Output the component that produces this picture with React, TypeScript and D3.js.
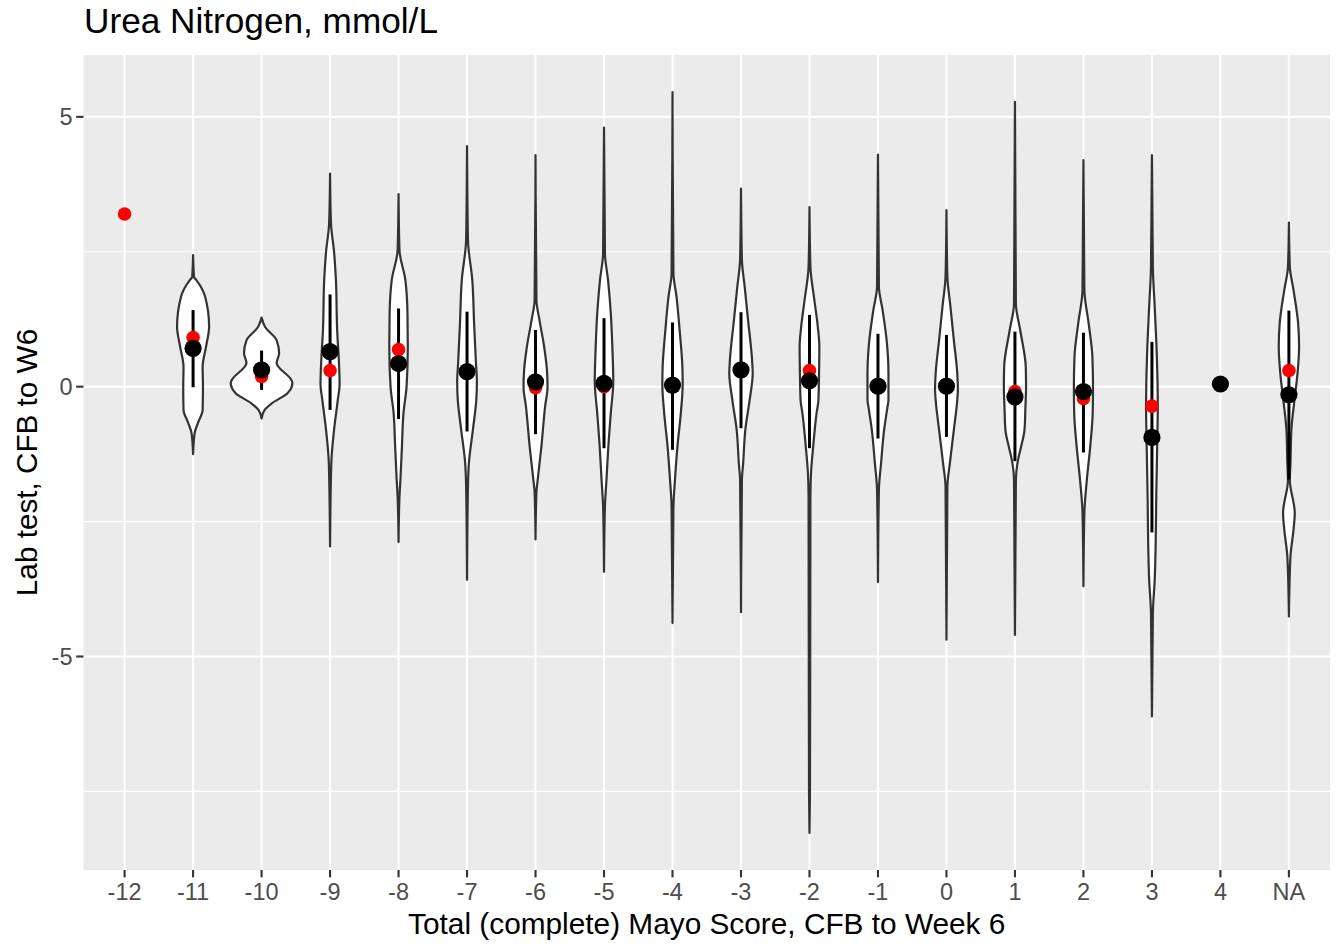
import React from "react";
import * as d3 from "d3";

// ---------- data ----------
const categories = ["-12","-11","-10","-9","-8","-7","-6","-5","-4","-3","-2","-1","0","1","2","3","4","NA"];

// violin outlines: [value, relative half-width]
const vM11: [number, number][] = [[2.44,0],[2.03,0.03],[1.98,0.1],[1.67,0.39],[1.11,0.52],[0.74,0.42],[0.37,0.31],[0,0.32],[-0.43,0.31],[-0.67,0.16],[-0.86,0.05],[-1.25,0]];
const vM10: [number, number][] = [[1.28,0],[1.11,0.11],[0.86,0.49],[0.62,0.57],[0.44,0.49],[0.12,0.97],[0.07,1.0],[-0.12,0.84],[-0.31,0.33],[-0.43,0.1],[-0.59,0]];
const vM9: [number, number][] = [[3.95,0],[3.03,0.03],[2.5,0.13],[1.98,0.19],[1.05,0.23],[0.43,0.29],[0.05,0.31],[-0.25,0.25],[-0.8,0.13],[-1.42,0.04],[-2.96,0]];
const vM8: [number, number][] = [[3.57,0],[2.53,0.03],[1.98,0.22],[1.36,0.29],[0.74,0.3],[0,0.26],[-0.49,0.16],[-1.11,0.11],[-1.73,0.06],[-2.04,0.03],[-2.88,0]];
const vM7: [number, number][] = [[4.46,0],[2.72,0.03],[1.98,0.17],[1.17,0.23],[0.43,0.29],[0.1,0.32],[-0.25,0.3],[-0.8,0.19],[-1.42,0.06],[-1.85,0.03],[-3.58,0]];
const vM6: [number, number][] = [[4.29,0],[1.6,0.03],[1.23,0.13],[0.74,0.28],[0.31,0.37],[0,0.39],[-0.37,0.31],[-1.11,0.19],[-1.73,0.07],[-1.95,0.03],[-2.83,0]];
const vM5: [number, number][] = [[4.8,0],[2.47,0.03],[1.98,0.13],[1.36,0.22],[0.74,0.27],[0.1,0.3],[-0.49,0.22],[-1.11,0.14],[-1.73,0.08],[-2.22,0.03],[-3.43,0]];
const vM4: [number, number][] = [[5.46,0],[2.1,0.03],[1.67,0.13],[0.99,0.24],[0.37,0.32],[0.05,0.33],[-0.49,0.27],[-1.11,0.16],[-1.73,0.08],[-2.22,0.03],[-4.38,0]];
const vM3: [number, number][] = [[3.67,0],[2.35,0.03],[1.85,0.12],[1.23,0.23],[0.49,0.36],[0.25,0.38],[-0.25,0.28],[-0.8,0.14],[-1.42,0.07],[-1.73,0.03],[-4.18,0]];
const vM2: [number, number][] = [[3.33,0],[2.22,0.03],[1.6,0.16],[1.11,0.27],[0.74,0.32],[0.25,0.31],[-0.25,0.29],[-0.49,0.23],[-1.11,0.12],[-1.6,0.05],[-2.04,0.03],[-7.5,0.015],[-8.27,0]];
const vM1: [number, number][] = [[4.3,0],[1.85,0.03],[1.42,0.15],[0.81,0.29],[0.25,0.34],[-0.25,0.34],[-0.37,0.31],[-0.8,0.2],[-1.42,0.1],[-1.91,0.03],[-3.62,0]];
const v0: [number, number][] = [[3.27,0],[2.04,0.03],[1.48,0.13],[0.86,0.24],[0.25,0.35],[-0.06,0.37],[-0.25,0.35],[-0.8,0.24],[-1.42,0.11],[-1.85,0.03],[-4.69,0]];
const v1: [number, number][] = [[5.28,0],[1.54,0.03],[1.05,0.17],[0.37,0.35],[0,0.36],[-0.37,0.34],[-0.8,0.31],[-1.11,0.2],[-1.42,0.08],[-1.73,0.03],[-4.6,0]];
const v2: [number, number][] = [[4.2,0],[1.79,0.03],[1.17,0.17],[0.56,0.29],[0,0.31],[-0.49,0.3],[-1.11,0.22],[-1.73,0.11],[-2.34,0.03],[-3.7,0]];
const v3: [number, number][] = [[4.29,0],[2.22,0.03],[1.48,0.09],[0.56,0.16],[-0.37,0.19],[-1.11,0.17],[-2.04,0.14],[-2.96,0.12],[-3.58,0.09],[-4.2,0.03],[-6.11,0]];
const vNA: [number, number][] = [[3.04,0],[2.22,0.03],[1.79,0.15],[1.17,0.3],[0.74,0.33],[0.25,0.28],[-0.25,0.18],[-0.8,0.08],[-1.42,0.05],[-1.73,0.03],[-2.34,0.19],[-2.65,0.15],[-3.15,0.05],[-4.26,0]];

const violins: [string, [number, number][]][] = [
  ["-11", vM11], ["-10", vM10], ["-9", vM9], ["-8", vM8], ["-7", vM7], ["-6", vM6],
  ["-5", vM5], ["-4", vM4], ["-3", vM3], ["-2", vM2], ["-1", vM1], ["0", v0],
  ["1", v1], ["2", v2], ["3", v3], ["NA", vNA],
];

// red points (means)
const redValues: (number | null)[] = [3.2,0.91,0.19,0.3,0.69,0.28,-0.02,0,0.03,0.31,0.3,0.01,0.01,-0.09,-0.22,-0.36,null,0.3];
// black points (medians) with ranges
const blackValues: (number | null)[] = [null,0.71,0.31,0.65,0.43,0.28,0.09,0.06,0.03,0.31,0.11,0.01,0.01,-0.19,-0.09,-0.94,0.05,-0.15];
const rangeLow: (number | null)[] = [null,-0.01,-0.06,-0.43,-0.6,-0.83,-0.88,-1.14,-1.17,-0.77,-1.14,-0.96,-0.93,-1.38,-1.22,-2.7,null,-1.72];
const rangeHigh: (number | null)[] = [null,1.42,0.67,1.71,1.45,1.39,1.05,1.27,1.19,1.38,1.33,0.98,0.96,1.02,1.0,0.83,null,1.41];

const yMajor = [-5, 0, 5];
const yMinor = [-7.5, -2.5, 2.5];

const titleText = "Urea Nitrogen, mmol/L";
const xTitle = "Total (complete) Mayo Score, CFB to Week 6";
const yTitle = "Lab test, CFB to W6";

// ---------- layout ----------
const W = 1340, H = 946;
const PL = 83.5, PR = 1330, PT = 55, PB = 870;
const FONT = "'Liberation Sans', Arial, Helvetica, sans-serif";

export default function App() {
  const x = d3.scalePoint<string>().domain(categories).range([PL, PR]).padding(0.6);
  const step = x.step();
  const allVals: number[] = [];
  violins.forEach(([, p]) => p.forEach((d) => allVals.push(d[0])));
  redValues.forEach((v) => v != null && allVals.push(v));
  const [lo, hi] = d3.extent(allVals) as [number, number];
  const pad = (hi - lo) * 0.05;
  const y = d3.scaleLinear().domain([lo - pad, hi + pad]).range([PB, PT]);
  const maxHW = step * 0.45;

  return (
    <svg width={W} height={H} style={{ position: "absolute", left: 0, top: 0, background: "#fff" }} fontFamily={FONT}>
      <rect x={0} y={0} width={W} height={H} fill="#ffffff" />
      <text x={84} y={33} fontSize={35.2} fill="#000">{titleText}</text>
      <rect x={PL} y={PT} width={PR - PL} height={PB - PT} fill="#EBEBEB" />
      {yMinor.map((v) => (
        <line key={"mn" + v} x1={PL} x2={PR} y1={y(v)} y2={y(v)} stroke="#fff" strokeWidth={1.1} />
      ))}
      {yMajor.map((v) => (
        <line key={"mj" + v} x1={PL} x2={PR} y1={y(v)} y2={y(v)} stroke="#fff" strokeWidth={2.1} />
      ))}
      {categories.map((c) => (
        <line key={"vx" + c} x1={x(c)} x2={x(c)} y1={PT} y2={PB} stroke="#fff" strokeWidth={2.1} />
      ))}
      {violins.map(([c, prof]) => {
        const cx = x(c) as number;
        const area = d3
          .area<[number, number]>()
          .y((d) => y(d[0]))
          .x0((d) => cx - d[1] * maxHW)
          .x1((d) => cx + d[1] * maxHW)
          .curve(d3.curveMonotoneY);
        return (
          <path key={"v" + c} d={area(prof) || ""} fill="#fff" stroke="#333333" strokeWidth={2.2} strokeLinejoin="round" />
        );
      })}
      {categories.map((c, i) =>
        rangeLow[i] != null && rangeHigh[i] != null ? (
          <line key={"r" + c} x1={x(c)} x2={x(c)} y1={y(rangeLow[i] as number)} y2={y(rangeHigh[i] as number)} stroke="#000" strokeWidth={3} />
        ) : null
      )}
      {categories.map((c, i) =>
        redValues[i] != null ? (
          <circle key={"red" + c} cx={x(c)} cy={y(redValues[i] as number)} r={6.8} fill="#FF0000" />
        ) : null
      )}
      {categories.map((c, i) =>
        blackValues[i] != null ? (
          <circle key={"blk" + c} cx={x(c)} cy={y(blackValues[i] as number)} r={8.6} fill="#000" />
        ) : null
      )}
      {/* y axis */}
      {yMajor.map((v) => (
        <g key={"yt" + v}>
          <line x1={PL - 7.3} x2={PL} y1={y(v)} y2={y(v)} stroke="#333333" strokeWidth={2.1} />
          <text x={PL - 11} y={y(v)} dy="0.36em" textAnchor="end" fontSize={23.5} fill="#4D4D4D">{v}</text>
        </g>
      ))}
      {/* x axis */}
      {categories.map((c) => (
        <g key={"xt" + c}>
          <line x1={x(c)} x2={x(c)} y1={PB} y2={PB + 7.3} stroke="#333333" strokeWidth={2.1} />
          <text x={x(c)} y={PB + 29.5} textAnchor="middle" fontSize={23.5} fill="#4D4D4D">{c}</text>
        </g>
      ))}
      <text x={(PL + PR) / 2} y={934} textAnchor="middle" fontSize={29.8} fill="#000">{xTitle}</text>
      <text transform={`translate(37,${(PT + PB) / 2}) rotate(-90)`} textAnchor="middle" fontSize={29.7} fill="#000">{yTitle}</text>
    </svg>
  );
}
